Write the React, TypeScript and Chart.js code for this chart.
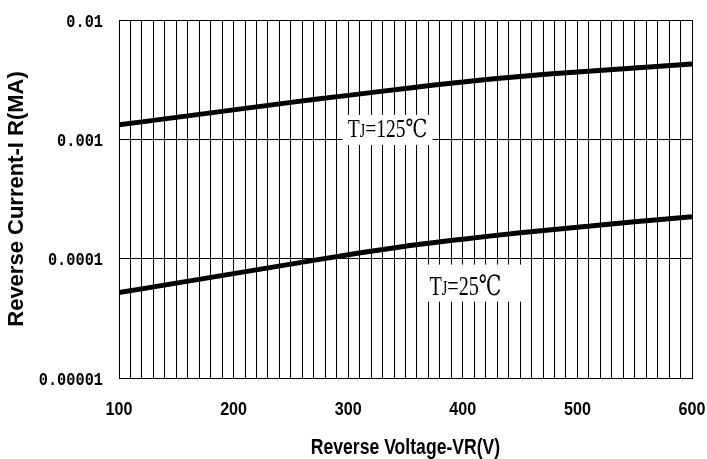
import React, { useEffect, useRef } from "react";
import { Chart, registerables } from "chart.js";

Chart.register(...registerables);

// Reverse voltage (V)
const voltages = [100, 150, 200, 250, 300, 350, 400, 450, 500, 550, 600];
// Reverse current, Tj = 125°C
const current125 = [1.322e-3, 1.528e-3, 1.765e-3, 2.04e-3, 2.335e-3, 2.672e-3, 3.029e-3, 3.367e-3, 3.671e-3, 3.966e-3, 4.283e-3];
// Reverse current, Tj = 25°C
const current25 = [5.195e-5, 6.237e-5, 7.49e-5, 8.995e-5, 1.08e-4, 1.272e-4, 1.456e-4, 1.65e-4, 1.834e-4, 2.04e-4, 2.246e-4];

const yTickValues = [1e-5, 1e-4, 1e-3, 1e-2];
const yTickLabels = ["0.00001", "0.0001", "0.001", "0.01"];
const xLabelValues = [100, 200, 300, 400, 500, 600];
const xTitle = "Reverse Voltage-VR(V)";
const yTitle = "Reverse Current-I R(MA)";

const curveLabels = [
  { main: "=125℃", x: 334.3, y: 1.2e-3, boxW: 90, boxH: 30, textDx: 0, baseDy: 7, size: 25, scaleX: 0.78 },
  { main: "=25℃", x: 408.4, y: 6.24e-5, boxW: 110, boxH: 37, textDx: -7, baseDy: 11.5, size: 28, scaleX: 0.72 },
];

function drawScaledText(ctx: any, text: string, x: number, y: number, font: string, scaleX: number, align: "left" | "center" | "right") {
  ctx.save();
  ctx.font = font;
  ctx.textBaseline = "middle";
  ctx.textAlign = "left";
  const w = ctx.measureText(text).width * scaleX;
  let sx = x;
  if (align === "center") sx = x - w / 2;
  if (align === "right") sx = x - w;
  ctx.translate(sx, y);
  ctx.scale(scaleX, 1);
  ctx.fillStyle = "#000";
  ctx.fillText(text, 0, 0);
  ctx.restore();
}

const textPlugin = {
  id: "axisAndCurveText",
  afterDraw(chart: any) {
    const ctx = chart.ctx;
    const xs = chart.scales.x;
    const ys = chart.scales.y;
    const area = chart.chartArea;
    // x tick labels
    xLabelValues.forEach((v) => {
      drawScaledText(ctx, String(v), xs.getPixelForValue(v), area.bottom + 32, "bold 19px 'Liberation Sans', Arial, sans-serif", 0.85, "center");
    });
    // y tick labels
    yTickValues.forEach((v, i) => {
      drawScaledText(ctx, yTickLabels[i], area.left - 16, ys.getPixelForValue(v) + 2, "bold 18px 'Liberation Mono', monospace", 0.85, "right");
    });
    // x title
    drawScaledText(ctx, xTitle, (area.left + area.right) / 2, area.bottom + 70, "bold 22px 'Liberation Sans', Arial, sans-serif", 0.8, "center");
    // y title
    ctx.save();
    ctx.translate(17, (area.top + area.bottom) / 2);
    ctx.rotate(-Math.PI / 2);
    drawScaledText(ctx, yTitle, 0, 0, "bold 22px 'Liberation Sans', Arial, sans-serif", 1, "center");
    ctx.restore();
  },
  afterDatasetsDraw(chart: any) {
    const ctx = chart.ctx;
    const xs = chart.scales.x;
    const ys = chart.scales.y;
    curveLabels.forEach((l) => {
      const cx = xs.getPixelForValue(l.x);
      const cy = ys.getPixelForValue(l.y);
      ctx.save();
      ctx.fillStyle = "#fff";
      ctx.fillRect(cx - l.boxW / 2, cy - l.boxH / 2, l.boxW, l.boxH);
      const fam = "'Liberation Serif', 'DejaVu Serif', 'Noto Sans CJK SC', serif";
      const bigF = `${l.size}px ${fam}`;
      const smallF = `${Math.round(l.size * 0.7)}px ${fam}`;
      ctx.font = bigF;
      const wT = ctx.measureText("T").width;
      const wM = ctx.measureText(l.main).width;
      ctx.font = smallF;
      const wJ = ctx.measureText("J").width;
      const total = (wT + wJ + wM) * l.scaleX;
      const startX = cx + l.textDx - total / 2;
      const base = cy + l.baseDy;
      ctx.translate(startX, base);
      ctx.scale(l.scaleX, 1);
      ctx.fillStyle = "#000";
      ctx.textBaseline = "alphabetic";
      ctx.textAlign = "left";
      ctx.font = bigF;
      ctx.fillText("T", 0, 0);
      ctx.font = smallF;
      ctx.fillText("J", wT, 0);
      ctx.font = bigF;
      ctx.fillText(l.main, wT + wJ, 0);
      ctx.restore();
    });
  },
};

export default function App() {
  const ref = useRef<HTMLCanvasElement | null>(null);
  useEffect(() => {
    if (!ref.current) return;
    const chart = new Chart(ref.current, {
      type: "line",
      data: {
        datasets: [
          {
            label: "Tj=125℃",
            data: voltages.map((v, i) => ({ x: v, y: current125[i] })),
            borderColor: "#000",
            borderWidth: 5,
            pointRadius: 0,
            tension: 0.3,
            fill: false,
          },
          {
            label: "Tj=25℃",
            data: voltages.map((v, i) => ({ x: v, y: current25[i] })),
            borderColor: "#000",
            borderWidth: 5,
            pointRadius: 0,
            tension: 0.3,
            fill: false,
          },
        ],
      },
      options: {
        animation: false,
        responsive: true,
        maintainAspectRatio: false,
        layout: { autoPadding: false, padding: { top: 20, right: 15, left: 0, bottom: 0 } },
        plugins: { legend: { display: false }, tooltip: { enabled: false } },
        scales: {
          x: {
            type: "linear",
            min: 100,
            max: 600,
            offset: false,
            afterFit: (s: any) => {
              s.height = 81;
            },
            grid: { color: "#000", lineWidth: 1, drawTicks: false },
            border: { color: "#000", width: 1 },
            ticks: { stepSize: 10, autoSkip: false, maxRotation: 0, display: false },
            title: { display: false },
          },
          y: {
            type: "logarithmic",
            min: 1e-5,
            max: 1e-2,
            afterFit: (s: any) => {
              s.width = 119;
            },
            afterBuildTicks: (s: any) => {
              s.ticks = yTickValues.map((v) => ({ value: v }));
            },
            grid: { color: "#000", lineWidth: 1, drawTicks: false },
            border: { color: "#000", width: 1 },
            ticks: { display: false },
            title: { display: false },
          },
        },
      } as any,
      plugins: [textPlugin],
    });
    return () => chart.destroy();
  }, []);
  return (
    <div style={{ position: "fixed", left: 0, top: 0, width: 707, height: 459, background: "#fff" }}>
      <canvas ref={ref} />
    </div>
  );
}
